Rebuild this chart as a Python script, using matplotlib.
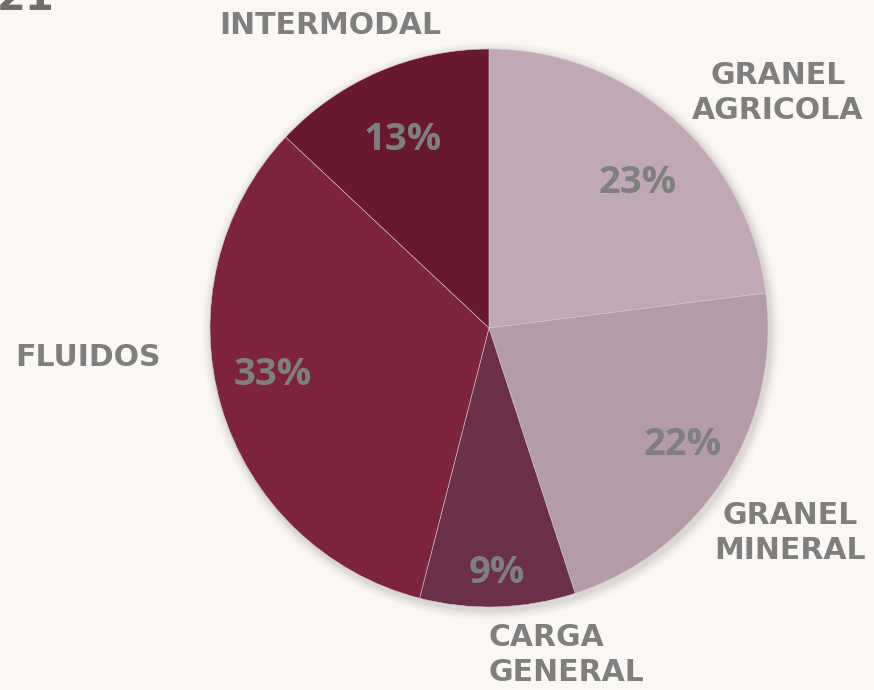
import matplotlib
matplotlib.use("Agg")
import matplotlib.pyplot as plt
from matplotlib.patches import Circle
import numpy as np

categories = ["GRANEL\nAGRICOLA", "GRANEL\nMINERAL", "CARGA\nGENERAL", "FLUIDOS", "INTERMODAL"]
values = [23, 22, 9, 33, 13]
pct_labels = ["23%", "22%", "9%", "33%", "13%"]
colors = ["#BFA9B6", "#B49BAA", "#6A3049", "#7D243D", "#69192F"]

W, H = 874, 690
BG = "#FAF7F4"
GRAY = "#7F7F7F"
FONT = ["Open Sans", "DejaVu Sans"]
LFONT = ["DejaVu Sans"]

fig = plt.figure(figsize=(W / 100, H / 100), dpi=100, facecolor=BG)
ax = fig.add_axes([0, 0, 1, 1])
ax.set_facecolor(BG)

cx, cy, R = 489, H - 328, 279

# soft shadow
for i, a in enumerate([0.035, 0.03, 0.025, 0.02, 0.015]):
    ax.add_patch(Circle((cx + 2, cy - 3), R + 2 + i * 2, color="black", alpha=a, lw=0, zorder=1))

wedges, _ = ax.pie(values, colors=colors, startangle=90, counterclock=False,
                   center=(cx, cy), radius=R, frame=True,
                   wedgeprops=dict(edgecolor="#D8C8CF", linewidth=0.4))
for w in wedges:
    w.set_zorder(2)
ax.set_xlim(0, W)
ax.set_ylim(0, H)
ax.set_aspect("equal")
ax.axis("off")

# label placement (layout): radial distance and pixel nudges
dists = [0.75, 0.77, 0.87, 0.77, 0.75]
nudges = [(10, -12), (12, -2), (0, -2), (-10, 13), (-3, -4)]
cum = np.cumsum([0] + values[:-1])
tot = sum(values)
for v, c, lab, d, (nx, ny) in zip(values, cum, pct_labels, dists, nudges):
    ang = np.deg2rad(90 - (c + v / 2) / tot * 360)
    ax.text(cx + d * R * np.cos(ang) + nx, cy + d * R * np.sin(ang) + ny, lab,
            ha="center", va="center", fontsize=27.5, fontweight="bold",
            color=GRAY, family=FONT, zorder=5)

label_pos = [(778, 93), (790, 533), (566, 655), (88, 357), (330, 25)]
label_align = ["center", "center", "left", "center", "center"]
for lab, (x, y), al in zip(categories, label_pos, label_align):
    ax.text(x, H - y, lab, ha="center", va="center", fontsize=21.5, fontweight="bold",
            color=GRAY, family=LFONT, linespacing=1.22, multialignment=al, zorder=5)

ax.text(-3, H - 10, "21", ha="left", va="baseline", fontsize=30, fontweight="bold",
        color="#6E6E6E", family=LFONT, zorder=5)

fig.savefig("out.png", dpi=100, facecolor=BG)
